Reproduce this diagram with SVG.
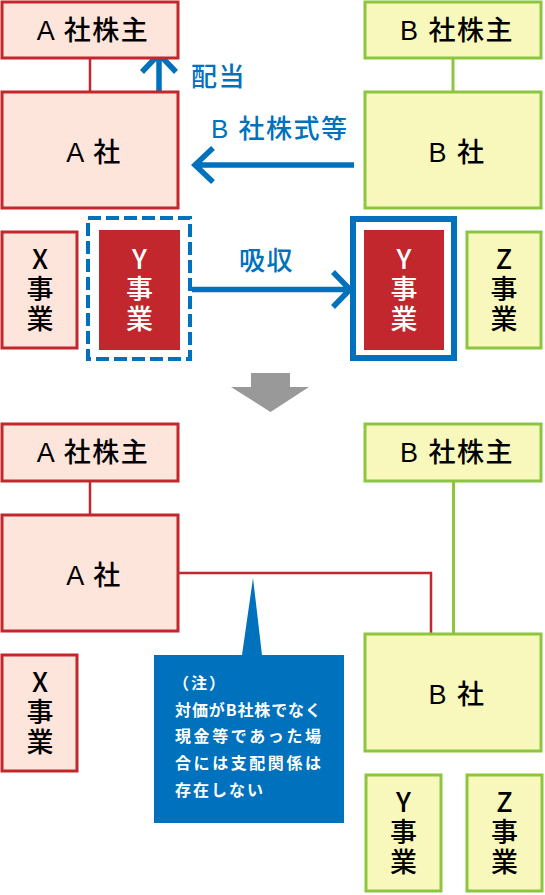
<svg xmlns="http://www.w3.org/2000/svg" width="545" height="895" viewBox="0 0 545 895">
<defs>
<style>
.a{fill:#fde5dc;stroke:#c1272d;stroke-width:3}
.b{fill:#f8f8bc;stroke:#8cc63f;stroke-width:3}
.t{font-family:"Liberation Sans","Noto Sans CJK JP",sans-serif;font-size:27px;font-weight:500;fill:#000;text-anchor:middle;letter-spacing:1.5px}
.v{font-family:"Noto Sans CJK JP","Liberation Sans",sans-serif;font-size:27px;font-weight:500;fill:#000;text-anchor:middle;writing-mode:vertical-rl;text-orientation:upright;letter-spacing:3px}
.w{fill:#fff}
.bl{font-family:"Liberation Sans","Noto Sans CJK JP",sans-serif;font-size:26px;font-weight:500;fill:#0071bc;letter-spacing:1.5px}
.arr{fill:none;stroke:#0071bc;stroke-width:5.5}
.n{font-family:"Noto Sans CJK JP",sans-serif;font-size:16px;font-weight:bold;fill:#fff;letter-spacing:2px}
.rl{fill:none;stroke:#c1272d;stroke-width:2.5}
.gl{fill:none;stroke:#8cc63f;stroke-width:3}
</style>
</defs>
<g id="connectors">
<line class="rl" x1="90" y1="59" x2="90" y2="91"/>
<line class="gl" x1="453" y1="59" x2="453" y2="91"/>
<path class="arr" d="M159 100V55M142 72L159 54L176 72"/>
<path class="arr" d="M354 165H197M213 148L195 165L213 182"/>
<path class="arr" d="M192 289.5H348M333 272L350 289.5L333 307"/>
<polygon fill="#999" points="251,373 290,373 290,387 309,387 270.5,412 231,387 251,387"/>
<line class="rl" x1="90" y1="482" x2="90" y2="514"/>
<path class="rl" d="M179 573H431V633"/>
<line class="gl" x1="453.5" y1="482" x2="453.5" y2="633"/>
</g>
<g id="a-shareholders-top"><rect class="a" x="2" y="2" width="176" height="56"/><text class="t" x="93" y="40">A 社株主</text></g>
<g id="a-company-top"><rect class="a" x="2" y="92" width="176" height="116"/><text class="t" x="94" y="162">A 社</text></g>
<g id="b-shareholders-top"><rect class="b" x="365" y="2" width="176" height="56"/><text class="t" x="457" y="40">B 社株主</text></g>
<g id="b-company-top"><rect class="b" x="365" y="92" width="176" height="116"/><text class="t" x="457" y="162">B 社</text></g>
<g id="label-haito"><text class="bl" x="191" y="86">配当</text></g>
<g id="label-bstock"><text class="bl" x="211" y="138">B 社株式等</text></g>
<g id="label-kyushu"><text class="bl" x="239" y="270">吸収</text></g>
<g id="x-business-top"><rect class="a" x="2" y="232" width="75" height="116"/><text class="v" x="40" y="290">X事業</text></g>
<g id="y-business-a"><rect x="88" y="218" width="102" height="141" fill="none" stroke="#0071bc" stroke-width="4" stroke-dasharray="13 5"/><rect x="99" y="230" width="81" height="120" fill="#c1272d"/><text class="v w" x="139.5" y="290">Y事業</text></g>
<g id="y-business-b"><rect x="353" y="219" width="101" height="139" fill="none" stroke="#0071bc" stroke-width="6"/><rect x="364" y="230" width="80" height="120" fill="#c1272d"/><text class="v w" x="404" y="290">Y事業</text></g>
<g id="z-business-top"><rect class="b" x="467" y="232" width="74" height="116"/><text class="v" x="504" y="290">Z事業</text></g>
<g id="a-shareholders-bottom"><rect class="a" x="2" y="424" width="176" height="57"/><text class="t" x="93" y="462">A 社株主</text></g>
<g id="a-company-bottom"><rect class="a" x="2" y="515" width="176" height="116"/><text class="t" x="94" y="585">A 社</text></g>
<g id="b-shareholders-bottom"><rect class="b" x="365" y="424" width="176" height="57"/><text class="t" x="457" y="462">B 社株主</text></g>
<g id="b-company-bottom"><rect class="b" x="365" y="634" width="176" height="117"/><text class="t" x="457" y="704">B 社</text></g>
<g id="x-business-bottom"><rect class="a" x="2" y="655" width="75" height="116"/><text class="v" x="40" y="713">X事業</text></g>
<g id="y-business-bottom"><rect class="b" x="366" y="775" width="75" height="116"/><text class="v" x="403.5" y="833">Y事業</text></g>
<g id="z-business-bottom"><rect class="b" x="467" y="775" width="75" height="116"/><text class="v" x="504.5" y="833">Z事業</text></g>
<g id="note">
<polygon fill="#0071bc" points="253,578 262,655 344,655 344,823 154,823 154,655 242,655"/>
<text class="n" x="173" y="689">（注）</text>
<text class="n" x="175" y="716" textLength="148" lengthAdjust="spacing">対価がB社株でなく</text>
<text class="n" x="175" y="742" textLength="148" lengthAdjust="spacing">現金等であった場</text>
<text class="n" x="175" y="769" textLength="148" lengthAdjust="spacing">合には支配関係は</text>
<text class="n" x="175" y="796">存在しない</text>
</g>
</svg>
